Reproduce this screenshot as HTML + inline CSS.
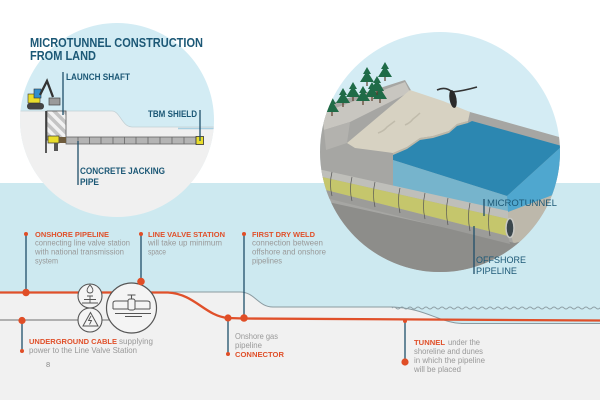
<!DOCTYPE html>
<html><head><meta charset="utf-8"><style>
html,body{margin:0;padding:0;background:#fff;}
svg{display:block;}
text{font-family:"Liberation Sans",sans-serif;}
</style></head><body>
<svg width="600" height="400" viewBox="0 0 600 400" xmlns="http://www.w3.org/2000/svg">
<defs>
<clipPath id="lc"><circle cx="117" cy="120" r="97"/></clipPath>
<clipPath id="rc"><circle cx="440" cy="152" r="120"/></clipPath>
<pattern id="hatch" width="7" height="7" patternUnits="userSpaceOnUse" patternTransform="rotate(-45)">
<rect width="7" height="7" fill="#f2f2f2"/><rect width="3.5" height="7" fill="#c4c4c4"/>
</pattern>
</defs>
<rect width="600" height="400" fill="#fff"/>
<rect y="183" width="600" height="217" fill="#f1f1f1"/>
<path d="M0,183 H600 V323.5 H462 C440,323 425,308 392,307 H273 C258,307 255,292 240,292 H0 Z" fill="#cde9f0"/>
<path d="M170,292 H240 C255,292 258,307 273,307 H392 C425,308 440,323 462,323.5 H600" fill="none" stroke="#8a9aa0" stroke-width="1"/>
<path d="M392,308 q2,-2 4,0 t4,0 t4,0 t4,0 t4,0 t4,0 t4,0 t4,0 t4,0 t4,0 t4,0 t4,0 t4,0 t4,0 t4,0 t4,0 t4,0 t4,0 t4,0 t4,0 t4,0 t4,0 t4,0 t4,0 t4,0 t4,0 t4,0 t4,0 t4,0 t4,0 t4,0 t4,0 t4,0 t4,0 t4,0 t4,0 t4,0 t4,0 t4,0 t4,0 t4,0 t4,0 t4,0 t4,0 t4,0 t4,0 t4,0 t4,0 t4,0 t4,0 t4,0 t4,0 t4,0" fill="none" stroke="#8fa0a6" stroke-width="0.9"/>

<!-- LEFT CIRCLE -->
<g clip-path="url(#lc)">
<rect x="0" y="0" width="250" height="250" fill="#d3ecf4"/>
<path d="M0,111 H112 C120,111 122,127 132,127 H250 V250 H0 Z" fill="#f0f0f0"/>
<path d="M0,111 H112 C120,111 122,127 132,127 H250" fill="none" stroke="#c2d0d5" stroke-width="0.8"/>
<path d="M178,128.5 H250" stroke="#a8d0e2" stroke-width="1.5"/>
</g>
<rect x="47" y="111" width="19" height="29" fill="url(#hatch)" stroke="#555" stroke-width="0.8"/>
<line x1="46" y1="111" x2="46" y2="153" stroke="#333" stroke-width="1.6"/>
<rect x="66" y="137" width="130" height="7" fill="#b4b4b4" stroke="#666" stroke-width="0.8"/>
<g stroke="#666" stroke-width="0.8">
<line x1="78" y1="137" x2="78" y2="144"/><line x1="89.5" y1="137" x2="89.5" y2="144"/><line x1="101" y1="137" x2="101" y2="144"/><line x1="113" y1="137" x2="113" y2="144"/><line x1="124.5" y1="137" x2="124.5" y2="144"/><line x1="136" y1="137" x2="136" y2="144"/><line x1="148" y1="137" x2="148" y2="144"/><line x1="160" y1="137" x2="160" y2="144"/><line x1="172" y1="137" x2="172" y2="144"/><line x1="184" y1="137" x2="184" y2="144"/>
</g>
<rect x="196" y="136.5" width="7.5" height="8" fill="#e9dd2c" stroke="#333" stroke-width="0.8"/>
<rect x="48" y="136" width="11" height="7" fill="#e9dd2c" stroke="#333" stroke-width="0.7"/>
<rect x="59" y="137" width="7" height="6" fill="#6e5b3c"/>
<rect x="54" y="143" width="4" height="8" fill="#555"/>
<rect x="27" y="103" width="17" height="6.5" rx="3" fill="#444"/>
<rect x="28" y="94" width="12" height="9" fill="#e9dd2c" stroke="#333" stroke-width="0.6"/>
<rect x="34" y="89" width="7" height="9" fill="#2f8fcf" stroke="#333" stroke-width="0.6"/>
<path d="M40,95 L47,81 L53,97" fill="none" stroke="#333" stroke-width="2.3"/>
<rect x="49" y="98" width="11" height="7" fill="#9a9a9a" stroke="#444" stroke-width="0.7"/>

<text x="30" y="47" font-size="12.5" font-weight="bold" fill="#1c5876" textLength="173" lengthAdjust="spacingAndGlyphs">MICROTUNNEL CONSTRUCTION</text>
<text x="30" y="60" font-size="12.5" font-weight="bold" fill="#1c5876" textLength="66" lengthAdjust="spacingAndGlyphs">FROM LAND</text>
<line x1="63" y1="72" x2="63" y2="115" stroke="#1f4f6a" stroke-width="1.3"/>
<text x="66" y="80" font-size="9.5" font-weight="bold" fill="#1c5876" textLength="64" lengthAdjust="spacingAndGlyphs">LAUNCH SHAFT</text>
<line x1="200" y1="110" x2="200" y2="141" stroke="#1f4f6a" stroke-width="1.3"/>
<text x="148" y="117" font-size="9.5" font-weight="bold" fill="#1c5876" textLength="49" lengthAdjust="spacingAndGlyphs">TBM SHIELD</text>
<line x1="78" y1="141" x2="78" y2="185" stroke="#1f4f6a" stroke-width="1.3"/>
<text x="80" y="174" font-size="9.5" font-weight="bold" fill="#1c5876" textLength="85" lengthAdjust="spacingAndGlyphs">CONCRETE JACKING</text>
<text x="80" y="185" font-size="9.5" font-weight="bold" fill="#1c5876" textLength="19" lengthAdjust="spacingAndGlyphs">PIPE</text>

<!-- RIGHT CIRCLE -->
<g clip-path="url(#rc)">
<rect x="310" y="25" width="260" height="260" fill="#d4ecf4"/>
<path d="M310,110 L405,80 L412,92 L470,112 L570,140 L570,300 L310,300 Z" fill="#a6a6a3"/>
<path d="M505,212 L560,185 L570,185 L570,250 L515,250 Z" fill="#bdb8ab"/>
<path d="M310,198 L515,243 L570,228 L570,300 L310,300 Z" fill="#8d8d8a"/>
<path d="M322,113 L405,82 L410,92 L350,122 L324,130 Z" fill="#c8c6c0"/>
<path d="M324,130 L350,122 L347,143 L326,150 Z" fill="#b3b2ae"/>
<path d="M347,143 L410,90 L443,101 L470,112 L468,121 L457,124 L449,131 L433,136 L420,138 L407,147 L393,153 L355,148 Z" fill="#d7d2c2"/>
<path d="M393,153 L407,147 L420,138 L433,136 L449,131 L457,124 L468,121 L468,125 L457,128 L449,134 L433,139 L420,141 L407,150 L393,157 Z" fill="#bcb7a8"/>
<path d="M378,133 q6,-2 9,-6 q4,-3 8,-6" fill="none" stroke="#c0bbab" stroke-width="1.5"/>
<path d="M405,125 q5,-2 8,-6 q4,-3 7,-6" fill="none" stroke="#c0bbab" stroke-width="1.5"/>
<path d="M393,155 L407,149 L420,140 L433,138 L449,133 L457,126 L468,123 L472,121 L562,146 L507,196 L393,160 Z" fill="#2c87b1"/>
<path d="M393,160 L507,196 L508,212 L393,187 Z" fill="#6db6d4" opacity="0.85"/>
<path d="M507,196 L562,146 L566,146 L566,190 L508,212 Z" fill="#4fa7cf"/>
<path d="M318,169 L508,211 L508,219 L318,176 Z" fill="#bfbfba"/>
<path d="M318,188 L508,236 L510,244 L318,196 Z" fill="#9c9c99"/>
<path d="M318,176 L508,219 L508,236 L318,188 Z" fill="#c5c66c"/>
<g stroke="#555" stroke-width="0.7" fill="none">
<path d="M332,172 q-3,12 0,24"/><path d="M352,177 q-3,12 0,24"/><path d="M375,182 q-3,12 0,25"/><path d="M400,188 q-3,12 0,25"/><path d="M425,193 q-3,13 0,26"/><path d="M448,198 q-3,13 0,27"/><path d="M470,203 q-3,13 0,28"/><path d="M490,207 q-3,14 0,29"/>
</g>
<ellipse cx="510" cy="228" rx="4" ry="9.5" fill="#3b474c" stroke="#c9c9c4" stroke-width="1.5"/>
<g fill="#1f6b47">
<path d="M332,97 l-4,7 h2 l-5,8 h14 l-5,-8 h2 z"/>
<path d="M343,88 l-4,7 h2 l-5,8 h14 l-5,-8 h2 z"/>
<path d="M353,82 l-4,7 h2 l-5,8 h14 l-5,-8 h2 z"/>
<path d="M363,86 l-4,7 h2 l-5,8 h14 l-5,-8 h2 z"/>
<path d="M367,67 l-4,7 h2 l-5,8 h14 l-5,-8 h2 z"/>
<path d="M372,82 l-4,7 h2 l-5,8 h14 l-5,-8 h2 z"/>
<path d="M377,76 l-4,7 h2 l-5,8 h14 l-5,-8 h2 z"/>
<path d="M385,62 l-4,7 h2 l-5,8 h14 l-5,-8 h2 z"/>
<path d="M380,84 l-4,7 h2 l-5,8 h14 l-5,-8 h2 z"/>
</g>
<g fill="#5b3d2a">
<rect x="331.4" y="112" width="1.2" height="4"/><rect x="342.4" y="103" width="1.2" height="4"/><rect x="352.4" y="97" width="1.2" height="4"/><rect x="362.4" y="101" width="1.2" height="4"/><rect x="366.4" y="82" width="1.2" height="4"/><rect x="371.4" y="97" width="1.2" height="4"/><rect x="376.4" y="91" width="1.2" height="4"/><rect x="384.4" y="77" width="1.2" height="4"/><rect x="379.4" y="99" width="1.2" height="4"/>
</g>
<path d="M437,90 Q446,86 452,92 Q463,91 477,87" fill="none" stroke="#333" stroke-width="1.6"/>
<ellipse cx="453" cy="99" rx="3.5" ry="9" fill="#2a2a2a" transform="rotate(-10 453 99)"/>
</g>
<line x1="484" y1="199" x2="484" y2="216" stroke="#1f4f6a" stroke-width="1.3"/>
<text x="487" y="206" font-size="9" fill="#1c5876" textLength="70" lengthAdjust="spacingAndGlyphs">MICROTUNNEL</text>
<line x1="474" y1="226" x2="474" y2="274" stroke="#1f4f6a" stroke-width="1.3"/>
<text x="476" y="263" font-size="9" fill="#1c5876" textLength="50" lengthAdjust="spacingAndGlyphs">OFFSHORE</text>
<text x="476" y="274" font-size="9" fill="#1c5876" textLength="41" lengthAdjust="spacingAndGlyphs">PIPELINE</text>

<line x1="0" y1="320" x2="110" y2="320" stroke="#6f6f6f" stroke-width="1.1"/>
<path d="M0,292.5 H168 C195,294 205,316 228,318 L244,318.5 L600,320.5" fill="none" stroke="#e0502a" stroke-width="2.3"/>

<circle cx="90" cy="296" r="12" fill="#f4f4f4" stroke="#555" stroke-width="1.1"/>
<path d="M90,285 q-4,4 -2.5,7 q2.5,2 5,0 q1.5,-3 -2.5,-7 z" fill="none" stroke="#555" stroke-width="0.9"/>
<path d="M84,299.5 H96 M90,296 V303 M87,296 H93 M82,303 H98" fill="none" stroke="#555" stroke-width="0.9"/>
<circle cx="90" cy="320" r="12" fill="#f4f4f4" stroke="#555" stroke-width="1.1"/>
<path d="M90.5,312.5 L83,326 H98 Z" fill="none" stroke="#555" stroke-width="1"/>
<path d="M91,316 L88.5,320.5 H91.5 L89.5,324.5" fill="none" stroke="#555" stroke-width="0.9"/>
<circle cx="131.5" cy="308" r="25" fill="#f4f4f4" stroke="#555" stroke-width="1.2"/>
<path d="M113,309 V303 Q113,301 116,301 H128 M135,301 H147 Q150,301 150,303 V309 M113,309 H128 M135,309 H150" fill="none" stroke="#555" stroke-width="1"/>
<rect x="128" y="299" width="7" height="11" rx="2" fill="none" stroke="#555" stroke-width="1"/>
<path d="M131.5,299 V295 M127.5,295 H135.5" fill="none" stroke="#555" stroke-width="1.1"/>
<path d="M115,313.5 H151 M125,316.5 H142" fill="none" stroke="#555" stroke-width="0.9"/>

<g stroke="#1f4f6a" stroke-width="1.3">
<line x1="26" y1="234" x2="26" y2="293"/>
<line x1="141" y1="234" x2="141" y2="281"/>
<line x1="244" y1="234" x2="244" y2="318"/>
<line x1="22" y1="320" x2="22" y2="351"/>
<line x1="228" y1="318" x2="228" y2="354"/>
<line x1="405" y1="321" x2="405" y2="361"/>
</g>
<g fill="#e04e27">
<circle cx="26" cy="234" r="2"/><circle cx="26" cy="292.5" r="3.7"/>
<circle cx="141" cy="234" r="2"/><circle cx="141" cy="281.5" r="3.8"/>
<circle cx="244" cy="234" r="2"/><circle cx="244" cy="318" r="3.8"/>
<circle cx="22" cy="320.5" r="3.6"/><circle cx="22" cy="351" r="2"/>
<circle cx="228" cy="318" r="3.6"/><circle cx="228" cy="354" r="2"/>
<circle cx="405" cy="321" r="2"/><circle cx="405" cy="362" r="3.6"/>
</g>

<g font-size="7.6" font-weight="bold" fill="#e0502a">
<text x="35" y="237" textLength="74" lengthAdjust="spacingAndGlyphs">ONSHORE PIPELINE</text>
<text x="148" y="237" textLength="77" lengthAdjust="spacingAndGlyphs">LINE VALVE STATION</text>
<text x="252" y="237" textLength="63" lengthAdjust="spacingAndGlyphs">FIRST DRY WELD</text>
<text x="29" y="344" textLength="88" lengthAdjust="spacingAndGlyphs">UNDERGROUND CABLE</text>
<text x="235" y="357" textLength="49" lengthAdjust="spacingAndGlyphs">CONNECTOR</text>
<text x="414" y="345" textLength="31" lengthAdjust="spacingAndGlyphs">TUNNEL</text>
</g>
<g font-size="7.8" fill="#999">
<text x="35" y="245.5" textLength="95" lengthAdjust="spacingAndGlyphs">connecting line valve station</text>
<text x="35" y="254.5" textLength="89" lengthAdjust="spacingAndGlyphs">with national transmission</text>
<text x="35" y="263.5" textLength="23" lengthAdjust="spacingAndGlyphs">system</text>
<text x="148" y="245.5" textLength="74" lengthAdjust="spacingAndGlyphs">will take up minimum</text>
<text x="148" y="254.5" textLength="18" lengthAdjust="spacingAndGlyphs">space</text>
<text x="252" y="245.5" textLength="71" lengthAdjust="spacingAndGlyphs">connection between</text>
<text x="252" y="254.5" textLength="74" lengthAdjust="spacingAndGlyphs">offshore and onshore</text>
<text x="252" y="263.5" textLength="30" lengthAdjust="spacingAndGlyphs">pipelines</text>
<text x="119" y="344" textLength="34" lengthAdjust="spacingAndGlyphs">supplying</text>
<text x="29" y="353" textLength="108" lengthAdjust="spacingAndGlyphs">power to the Line Valve Station</text>
<text x="235" y="339" textLength="43" lengthAdjust="spacingAndGlyphs">Onshore gas</text>
<text x="235" y="348" textLength="27" lengthAdjust="spacingAndGlyphs">pipeline</text>
<text x="448" y="345" textLength="32" lengthAdjust="spacingAndGlyphs">under the</text>
<text x="414" y="354" textLength="69" lengthAdjust="spacingAndGlyphs">shoreline and dunes</text>
<text x="414" y="363" textLength="71" lengthAdjust="spacingAndGlyphs">in which the pipeline</text>
<text x="414" y="372" textLength="47" lengthAdjust="spacingAndGlyphs">will be placed</text>
</g>
<text x="46" y="367" font-size="7.5" fill="#888">8</text>
</svg>
</body></html>
